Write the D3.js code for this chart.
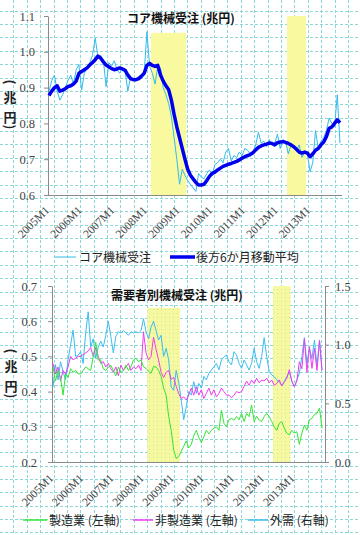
<!DOCTYPE html>
<html>
<head>
<meta charset="utf-8">
<script src="https://cdn.jsdelivr.net/npm/d3@7"></script>
<style>
  body { margin: 0; background: #fff; }
  text { font-family: "Noto Sans CJK JP", sans-serif; }
  .num { font-family: "Liberation Serif", serif; fill: #444; }
</style>
</head>
<body>
<svg id="chart"></svg>
<script>
// ---- data ----
const years = [2005, 2006, 2007, 2008, 2009, 2010, 2011, 2012, 2013];
const months = years.flatMap(y => d3.range(1, 13).map(m => `${y}M${m}`));
const yearTicks = ["2005M1", "2006M1", "2007M1", "2008M1", "2009M1", "2010M1", "2011M1", "2012M1", "2013M1"];

// core machinery orders, trillion yen
const coreOrders = [
  0.89, 0.92, 0.935, 0.89, 0.865, 0.88, 0.90, 0.92, 0.935, 0.91, 0.95, 0.965,
  0.893, 0.94, 0.955, 0.97, 0.99, 1.038, 0.985, 0.99, 0.975, 0.903, 0.97, 0.96,
  0.975, 0.95, 0.94, 0.955, 0.945, 0.89, 0.93, 0.92, 0.925, 0.93, 0.935, 0.94,
  1.056, 0.96, 0.94, 0.91, 0.96, 0.955, 0.90, 0.88, 0.855, 0.82, 0.76, 0.70,
  0.63, 0.672, 0.655, 0.64, 0.63, 0.62, 0.61, 0.66, 0.65, 0.645, 0.66, 0.67,
  0.655, 0.685, 0.69, 0.70, 0.69, 0.72, 0.73, 0.695, 0.71, 0.705, 0.72, 0.71,
  0.73, 0.725, 0.715, 0.72, 0.74, 0.775, 0.745, 0.75, 0.735, 0.755, 0.74, 0.745,
  0.77, 0.73, 0.755, 0.75, 0.715, 0.74, 0.73, 0.725, 0.74, 0.705, 0.72, 0.715,
  0.665, 0.69, 0.78, 0.73, 0.75, 0.76, 0.78, 0.815, 0.80, 0.79, 0.88, 0.745
];
// backward 6-month moving average
const coreMA6 = [
  0.878, 0.89, 0.90, 0.905, 0.89, 0.893, 0.897, 0.903, 0.905, 0.91, 0.918, 0.94,
  0.945, 0.95, 0.955, 0.963, 0.97, 0.978, 0.988, 0.982, 0.972, 0.963, 0.958, 0.953,
  0.95, 0.952, 0.955, 0.952, 0.948, 0.935, 0.925, 0.922, 0.922, 0.925, 0.932, 0.94,
  0.962, 0.968, 0.962, 0.959, 0.962, 0.935, 0.918, 0.905, 0.894, 0.865, 0.825, 0.79,
  0.76, 0.73, 0.70, 0.672, 0.655, 0.645, 0.635, 0.628, 0.628, 0.63, 0.64, 0.652,
  0.66, 0.664, 0.67, 0.675, 0.68, 0.683, 0.686, 0.688, 0.691, 0.694, 0.698, 0.703,
  0.707, 0.71, 0.713, 0.718, 0.726, 0.733, 0.737, 0.74, 0.742, 0.745, 0.744, 0.74,
  0.746, 0.748, 0.749, 0.747, 0.744, 0.74, 0.735, 0.728, 0.72, 0.717, 0.72, 0.717,
  0.707, 0.715, 0.725, 0.73, 0.74, 0.748, 0.763, 0.786, 0.79, 0.80, 0.81, 0.802
];

// orders by demand sector, trillion yen
const manufacturing = [
  0.47, 0.43, 0.46, 0.44, 0.39, 0.45, 0.44, 0.465, 0.455, 0.46, 0.45, 0.45,
  0.46, 0.47, 0.465, 0.46, 0.50, 0.54, 0.49, 0.49, 0.465, 0.46, 0.47, 0.475,
  0.46, 0.445, 0.47, 0.455, 0.46, 0.475, 0.46, 0.47, 0.49, 0.495, 0.485, 0.49,
  0.47, 0.466, 0.458, 0.452, 0.471, 0.47, 0.46, 0.443, 0.41, 0.39, 0.33, 0.29,
  0.235, 0.21, 0.215, 0.23, 0.245, 0.26, 0.24, 0.25, 0.275, 0.29, 0.27, 0.255,
  0.272, 0.29, 0.28, 0.29, 0.296, 0.30, 0.29, 0.347, 0.31, 0.30, 0.32, 0.324,
  0.319, 0.329, 0.32, 0.338, 0.315, 0.338, 0.329, 0.362, 0.315, 0.33, 0.319, 0.315,
  0.329, 0.338, 0.329, 0.315, 0.30, 0.29, 0.31, 0.315, 0.296, 0.282, 0.277, 0.29,
  0.282, 0.286, 0.25, 0.282, 0.305, 0.29, 0.32, 0.324, 0.335, 0.338, 0.353, 0.296
];
const nonManufacturing = [
  0.48, 0.45, 0.47, 0.43, 0.46, 0.45, 0.47, 0.50, 0.49, 0.495, 0.50, 0.50,
  0.505, 0.51, 0.515, 0.525, 0.50, 0.525, 0.50, 0.48, 0.485, 0.47, 0.48, 0.465,
  0.455, 0.47, 0.445, 0.475, 0.46, 0.47, 0.48, 0.46, 0.47, 0.465, 0.475, 0.46,
  0.57, 0.51, 0.49, 0.50, 0.555, 0.52, 0.49, 0.455, 0.44, 0.455, 0.46, 0.435,
  0.44, 0.415, 0.395, 0.38, 0.385, 0.376, 0.39, 0.41, 0.39, 0.414, 0.39, 0.405,
  0.38, 0.395, 0.41, 0.39, 0.405, 0.385, 0.395, 0.41, 0.40, 0.39, 0.39, 0.382,
  0.39, 0.40, 0.397, 0.40, 0.415, 0.43, 0.418, 0.433, 0.423, 0.438, 0.425, 0.433,
  0.43, 0.438, 0.425, 0.433, 0.418, 0.423, 0.433, 0.416, 0.428, 0.438, 0.462, 0.43,
  0.414, 0.43, 0.485, 0.465, 0.55, 0.455, 0.528, 0.466, 0.523, 0.46, 0.545, 0.46
];
const overseas = [
  0.64, 0.83, 0.70, 0.855, 0.77, 0.70, 0.87, 1.0, 1.125, 0.90, 0.91, 0.94,
  0.84, 1.10, 1.28, 0.98, 1.05, 0.885, 0.98, 1.03, 0.98, 1.08, 1.20, 1.07,
  0.93, 1.07, 1.11, 1.10, 1.12, 1.10, 1.08, 1.11, 1.10, 1.11, 1.10, 1.12,
  1.22, 1.11, 1.05, 1.15, 1.20, 1.12, 1.04, 1.08, 0.90, 0.97, 0.87, 0.64,
  0.61, 0.78, 0.68, 0.53, 0.36, 0.47, 0.60, 0.57, 0.685, 0.585, 0.67, 0.63,
  0.73, 0.70, 0.756, 0.784, 0.812, 0.841, 0.784, 0.87, 0.895, 0.912, 0.855, 0.827,
  0.94, 0.912, 0.841, 0.798, 0.869, 0.827, 0.784, 0.841, 0.97, 0.855, 0.798, 0.898,
  1.06, 0.898, 0.77, 0.742, 0.727, 0.70, 0.685, 0.648, 0.685, 0.727, 0.77, 0.685,
  0.642, 0.70, 0.756, 0.898, 1.06, 0.841, 0.97, 0.884, 1.04, 0.812, 1.04, 0.784
];

// recession periods and shading heights
const recessions = [["2008M3", "2009M3"], ["2012M5", "2012M11"]];
const shadeTop1 = [1.053, 1.1];
const shadeTop2 = [0.638, 0.7];

const ticks1 = [0.6, 0.7, 0.8, 0.9, 1.0, 1.1];
const ticksL = [0.2, 0.3, 0.4, 0.5, 0.6, 0.7];
const ticksR = [0.0, 0.5, 1.0, 1.5];

const title1 = "コア機械受注 (兆円)";
const title2 = "需要者別機械受注 (兆円)";
const legend1 = ["コア機械受注", "後方6か月移動平均"];
const legend2 = ["製造業 (左軸)", "非製造業 (左軸)", "外需 (右軸)"];

// ---- layout ----
const W = 360, H = 535;
const svg = d3.select("#chart").attr("width", W).attr("height", H);
svg.append("rect").attr("width", W).attr("height", H).attr("fill", "#fff");

const defs = svg.append("defs");
const pat = defs.append("pattern").attr("id", "dots")
  .attr("width", 4).attr("height", 4).attr("patternUnits", "userSpaceOnUse");
pat.append("rect").attr("width", 4).attr("height", 4).attr("fill", "#f6f8a2");
pat.append("rect").attr("x", 1).attr("y", 1).attr("width", 1).attr("height", 1).attr("fill", "#c6ea8c");

// graph-paper background
const gstep = 13.38;
const grid = svg.append("g").attr("stroke", "#8fd6d6").attr("stroke-width", 1)
  .attr("stroke-dasharray", "3,2");
grid.selectAll("line.v").data(d3.range(1, 27)).join("line").attr("class", "v")
  .attr("x1", d => Math.round(d * gstep) + 0.5).attr("x2", d => Math.round(d * gstep) + 0.5)
  .attr("y1", 0).attr("y2", H);
grid.selectAll("line.h").data(d3.range(0, 40)).join("line").attr("class", "h")
  .attr("y1", d => Math.round(10.6 + d * gstep) + 0.5).attr("y2", d => Math.round(10.6 + d * gstep) + 0.5)
  .attr("x1", 0).attr("x2", W);

function shading(g, x, y, tops, fill, bottom) {
  const half = x.step() / 2;
  g.selectAll("rect.rec").data(recessions).join("rect").attr("class", "rec")
    .attr("x", d => x(d[0]) - half)
    .attr("width", d => x(d[1]) - x(d[0]) + 2 * half)
    .attr("y", (d, i) => y(tops[i]))
    .attr("height", (d, i) => bottom - y(tops[i]))
    .attr("fill", fill);
}

function xLabels(g, x, y0) {
  g.selectAll("text.xl").data(yearTicks).join("text").attr("class", "num xl")
    .attr("transform", d => `translate(${x(d) + 1},${y0}) rotate(-45)`)
    .attr("text-anchor", "end")
    .attr("font-size", 11.5)
    .text(d => d);
}

// vertical "(兆円)" label: parens turned a quarter round
function unitLabel(g, x, y0) {
  const chars = ["(", "兆", "円", ")"];
  const offs = [0, 14, 34, 45];
  g.selectAll("text.unit").data(chars).join("text").attr("class", "unit")
    .attr("transform", (d, i) => `translate(${x},${y0 + offs[i]})` + (i === 0 || i === 3 ? " rotate(90)" : ""))
    .attr("text-anchor", "middle").attr("dominant-baseline", "central")
    .attr("font-size", 13).attr("font-weight", "bold")
    .attr("fill", "#222").text(d => d);
}

function styleAxis(a) {
  a.select(".domain").attr("stroke", "#8a8a8a");
  a.selectAll(".tick line").attr("stroke", "#8a8a8a");
  a.selectAll(".tick text").attr("class", "num").attr("font-size", 12.5)
    .attr("font-family", null);
}

// ---- chart 1 ----
const x1 = d3.scalePoint().domain(months).range([49, 340]);
const y1 = d3.scaleLinear().domain([0.6, 1.1]).range([195, 16]);
const c1 = svg.append("g");
shading(c1, x1, y1, shadeTop1, "#f9f9a0", 195);

const ax1 = c1.append("g").attr("transform", "translate(48,0)")
  .call(d3.axisLeft(y1).tickValues(ticks1).tickFormat(d3.format(".1f"))
    .tickSize(4).tickSizeOuter(0).tickPadding(9));
styleAxis(ax1);
c1.append("line").attr("x1", 48).attr("x2", 342).attr("y1", 195.5).attr("y2", 195.5)
  .attr("stroke", "#8a8a8a");

const line1 = d3.line().x((d, i) => x1(months[i])).y(d => y1(d));
c1.append("path").datum(coreOrders).attr("d", line1)
  .attr("fill", "none").attr("stroke", "#33bbee").attr("stroke-width", 1);
c1.append("path").datum(coreMA6).attr("d", line1)
  .attr("fill", "none").attr("stroke", "#0000ee").attr("stroke-width", 3.5)
  .attr("stroke-linejoin", "round");

c1.append("text").attr("x", 181).attr("y", 23).attr("text-anchor", "middle")
  .attr("font-size", 12).attr("font-weight", "bold").attr("fill", "#111").text(title1);
xLabels(c1, x1, 211);
unitLabel(c1, 10, 82);

// legend 1
const lg1 = c1.append("g");
lg1.append("line").attr("x1", 55).attr("x2", 76).attr("y1", 257).attr("y2", 257)
  .attr("stroke", "#33bbee").attr("stroke-width", 1);
lg1.append("text").attr("x", 79).attr("y", 262).attr("font-size", 12).attr("fill", "#222").text(legend1[0]);
lg1.append("line").attr("x1", 170).attr("x2", 195).attr("y1", 257).attr("y2", 257)
  .attr("stroke", "#0000ee").attr("stroke-width", 3.5);
lg1.append("text").attr("x", 196).attr("y", 262).attr("font-size", 12).attr("fill", "#222").text(legend1[1]);

// ---- chart 2 ----
const x2 = d3.scalePoint().domain(months).range([53, 322]);
const yL = d3.scaleLinear().domain([0.2, 0.7]).range([462, 286]);
const yR = d3.scaleLinear().domain([0, 1.5]).range([462, 286]);
const c2 = svg.append("g");
shading(c2, x2, yL, shadeTop2, "url(#dots)", 462);

const axL = c2.append("g").attr("transform", "translate(52,0)")
  .call(d3.axisLeft(yL).tickValues(ticksL).tickFormat(d3.format(".1f"))
    .tickSize(4).tickSizeOuter(0).tickPadding(11));
styleAxis(axL);
const axR = c2.append("g").attr("transform", "translate(325,0)")
  .call(d3.axisRight(yR).tickValues(ticksR).tickFormat(d3.format(".1f"))
    .tickSize(4).tickSizeOuter(0).tickPadding(6));
styleAxis(axR);
c2.append("line").attr("x1", 52).attr("x2", 325).attr("y1", 462.5).attr("y2", 462.5)
  .attr("stroke", "#8a8a8a");

const lineL = d3.line().x((d, i) => x2(months[i])).y(d => yL(d));
const lineR = d3.line().x((d, i) => x2(months[i])).y(d => yR(d));
c2.append("path").datum(overseas).attr("d", lineR)
  .attr("fill", "none").attr("stroke", "#3dbdf0").attr("stroke-width", 1);
c2.append("path").datum(nonManufacturing).attr("d", lineL)
  .attr("fill", "none").attr("stroke", "#f03cf0").attr("stroke-width", 1);
c2.append("path").datum(manufacturing).attr("d", lineL)
  .attr("fill", "none").attr("stroke", "#33e633").attr("stroke-width", 1);

c2.append("text").attr("x", 177).attr("y", 300).attr("text-anchor", "middle")
  .attr("font-size", 12).attr("font-weight", "bold").attr("fill", "#111").text(title2);
xLabels(c2, x2, 479);
unitLabel(c2, 11, 351);

// legend 2
const lg2Colors = ["#33e633", "#f03cf0", "#3dbdf0"];
const lg2Line = [[23, 47], [133, 153], [248, 268]];
const lg2 = c2.append("g");
legend2.forEach((t, i) => {
  lg2.append("line").attr("x1", lg2Line[i][0]).attr("x2", lg2Line[i][1])
    .attr("y1", 520).attr("y2", 520).attr("stroke", lg2Colors[i]).attr("stroke-width", 1.5);
  lg2.append("text").attr("x", lg2Line[i][1] + 2).attr("y", 525)
    .attr("font-size", 12).attr("fill", "#222").text(t);
});
</script>
</body>
</html>
